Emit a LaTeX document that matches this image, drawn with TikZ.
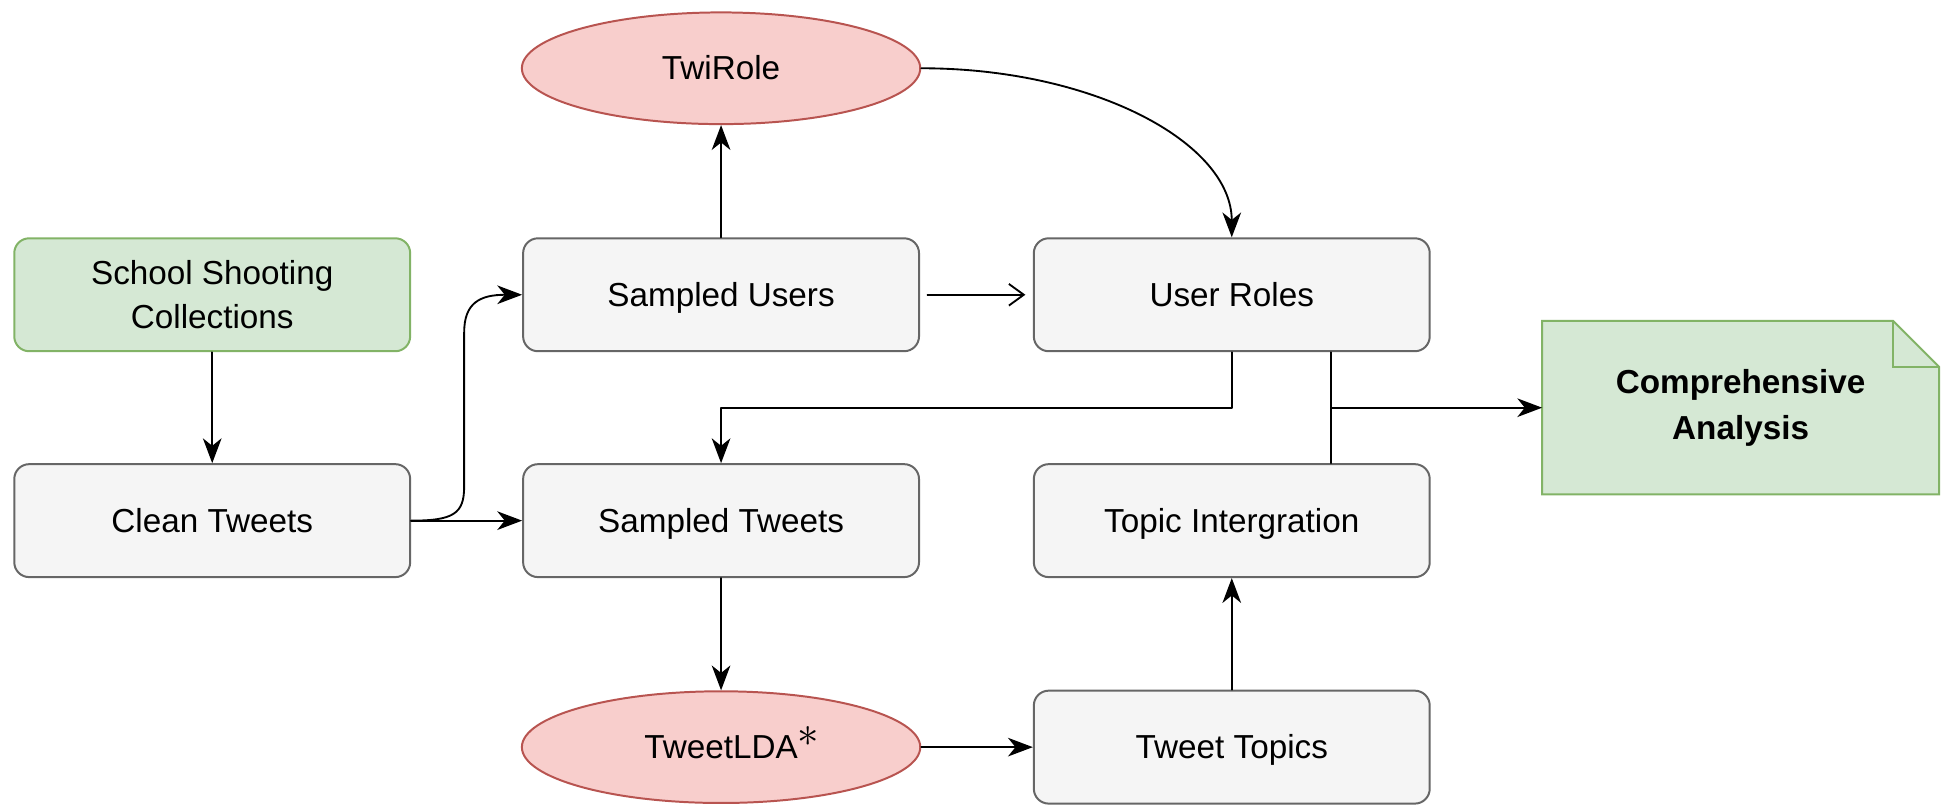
\documentclass[tikz,border=0pt]{standalone}
\usepackage{fontspec}
\setmainfont{Liberation Sans}
\usepackage{tikz}
\usetikzlibrary{arrows.meta}
\usetikzlibrary{shapes.geometric}
\usetikzlibrary{calc}
\usetikzlibrary{backgrounds}
\definecolor{boxfill}{HTML}{F5F5F5}
\definecolor{boxline}{HTML}{666666}
\definecolor{greenfill}{HTML}{D5E8D4}
\definecolor{greenline}{HTML}{82B366}
\definecolor{redfill}{HTML}{F8CECC}
\definecolor{redline}{HTML}{B85450}

\tikzset{
  stepbox/.style={rectangle, rounded corners=6pt, draw=boxline, fill=boxfill, line width=0.8pt,
    minimum width=159.5pt, minimum height=45.5pt, align=center, inner sep=0pt},
  sourcebox/.style={stepbox, draw=greenline, fill=greenfill},
  toolnode/.style={ellipse, draw=redline, fill=redfill, line width=0.8pt,
    minimum width=160.5pt, minimum height=45pt, inner sep=0pt},
  notebox/.style={minimum width=159.5pt, minimum height=69.5pt, align=center, inner sep=0pt,
    font=\fontsize{13.4pt}{18.5pt}\selectfont\bfseries},
  oneline/.style={text height=12pt, text depth=2.6pt},
  flow/.style={-{Stealth[length=10pt,width=7.5pt,inset=3pt]}, line width=0.75pt},
}

\begin{document}
\begin{tikzpicture}[x=0.5pt, y=-0.5pt, line cap=round, line join=round, font=\fontsize{13.4pt}{18pt}\selectfont]
\useasboundingbox (0,0) rectangle (1568,649.5);
% Knoten
\node[sourcebox] (school) at (171,237.5) {School Shooting\\Collections};
\node[stepbox, oneline] (clean) at (171,419.5) {Clean Tweets};
\node[stepbox, oneline] (users) at (581,237.5) {Sampled Users};
\node[stepbox, oneline] (tweets) at (581,419.5) {Sampled Tweets};
\node[toolnode, oneline] (twirole) at (581,55) {TwiRole};
\node[toolnode, oneline] (tweetlda) at (581,602)
  {TweetLDA\rlap{\raisebox{5pt}{\fontsize{19pt}{19pt}\selectfont$\ast$}}};
\node[stepbox, oneline] (roles) at (992.5,237.5) {User Roles};
\node[stepbox, oneline] (integration) at (992.5,419.5) {Topic Intergration};
\node[stepbox, oneline] (topics) at (992.5,602) {Tweet Topics};
\node[notebox] (analysis) at (1402.5,328.5) {Comprehensive\\Analysis};
\begin{scope}[on background layer]
\draw[greenline, fill=greenfill, line width=0.8pt] (analysis.north west) -- ($(analysis.north east)+(-37,0)$)
  -- ($(analysis.north east)+(0,37)$) -- (analysis.south east) -- (analysis.south west) -- cycle;
\draw[greenline, line width=0.8pt] ($(analysis.north east)+(-37,0)$) -- ++(0,37) -- ++(37,0);
\end{scope}
% Verbindungen
\coordinate (j) at (1072.5,328.5);
\draw[flow] (school) -- (clean);
\draw[flow] (clean) -- (tweets);
\draw[flow] (clean.east) .. controls +(34,0) and +(0,22) .. (374,392) -- (374,268)
  .. controls +(0,-24) and +(-34,0) .. (users.west);
\draw[flow] (users) -- (twirole);
\draw[flow] (twirole.east) .. controls +(139,0) and +(0,-76) .. (roles.north);
\draw[-{Straight Barb[length=6pt,width=8.7pt]}, line width=0.75pt, shorten <=3pt, shorten >=3pt] (users) -- (roles);
\draw[flow] (roles.south) -- (roles.south |- j) -| (tweets.north);
\draw[line width=0.75pt] (integration.north -| j) -- (roles.south -| j);
\draw[flow] (j) -- (j -| analysis.west);
\draw[flow] (tweets) -- (tweetlda);
\draw[flow] (tweetlda) -- (topics);
\draw[flow] (topics) -- (integration);
\end{tikzpicture}
\end{document}
